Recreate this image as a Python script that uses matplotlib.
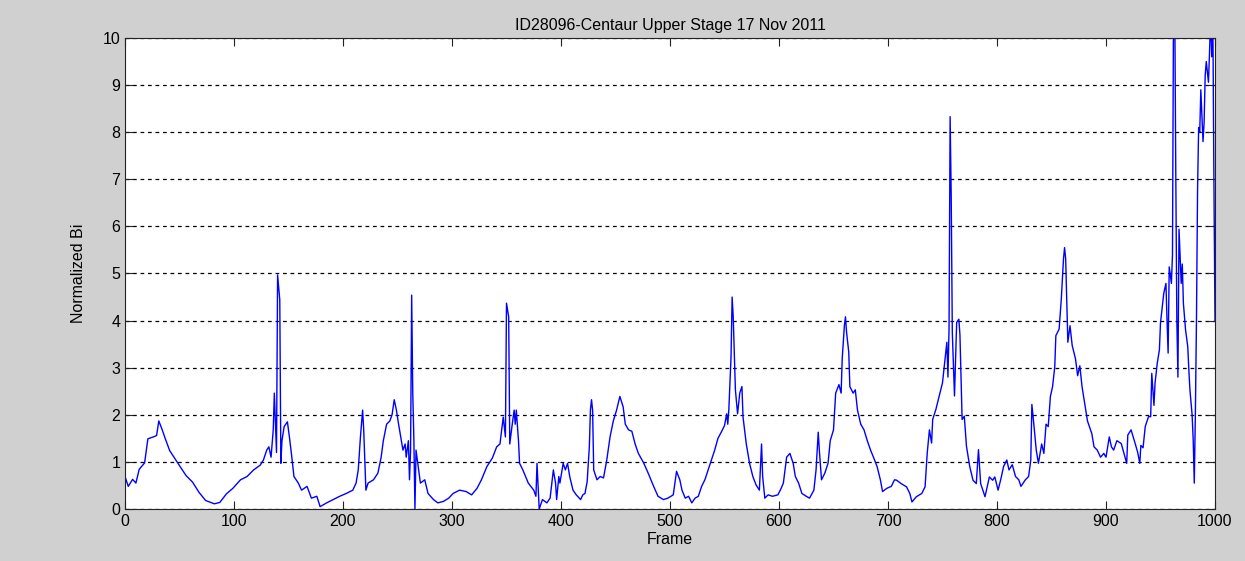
import matplotlib.pyplot as plt

plt.rcParams['font.family'] = ['Liberation Sans', 'DejaVu Sans']

# Frame numbers and normalized Bi values
frame = [0, 3, 7, 10, 13, 18, 21, 26, 29, 31, 34, 37, 41, 46, 50, 56, 62, 68, 74, 82, 87, 93, 99,
         106, 112, 118, 124, 127, 130, 132, 134, 136, 137, 139, 140, 142, 143, 144, 146, 149, 151,
         153, 155, 159, 162, 167, 171, 176, 179, 185, 191, 197, 200,
         203, 209, 212, 214, 216, 218, 219, 221, 223, 228, 232, 235, 237, 240, 243, 245, 247, 249,
         251, 254, 255, 257, 258, 260, 261, 262, 263, 264, 265, 266, 267, 269, 271, 275, 278, 283,
         287, 292, 297, 301,
         307, 313, 318, 323, 327, 332, 337, 341, 344, 346, 347, 349, 350, 352, 353, 355, 357, 358,
         359, 361, 362, 365, 370, 375, 377, 378, 380, 383, 387, 390, 393, 395, 396, 398, 399, 402,
         404, 406, 408, 411, 414, 418, 420, 422, 424, 426, 427, 428, 429, 430, 433, 436, 439, 442,
         445, 448, 451, 454, 457, 459, 462, 465, 468, 471, 476, 480, 485, 489, 494, 498, 503,
         506, 509, 511, 514, 517, 520, 523, 526, 529, 532, 535, 538, 541, 544, 547, 550, 552, 553,
         554, 556, 557, 558, 559, 560, 562, 564, 566, 567, 570, 573, 576, 579, 582, 584, 585, 587,
         590, 594, 599, 602,
         604, 607, 610, 613, 615, 618, 621, 625, 628, 632, 634, 636, 637, 639, 642, 645, 647, 650,
         652, 655, 657, 658, 660, 661, 662, 664, 665, 668, 670, 672, 675, 678, 681, 684, 687, 690,
         693, 695, 699, 703,
         706, 708, 712, 717, 720, 722, 726, 731, 734, 736, 738, 740, 741, 744, 747, 750, 752, 754,
         755, 756, 757, 758, 759, 761, 763, 765, 766, 768, 770, 772, 775, 778, 781, 783, 785, 787,
         789, 793, 796, 798, 801, 804,
         806, 809, 811, 814, 817, 820, 822, 826, 829, 831, 832, 834, 836, 838, 841, 843, 845, 847,
         849, 851, 853, 854, 857, 859, 861, 862, 863, 864, 865, 867, 869, 872, 874, 876, 878, 881,
         883, 887, 889, 892, 895, 898, 900, 903, 905, 907,
         910, 914, 917, 919, 920, 923, 926, 929, 931, 932, 934, 936, 939, 941, 942, 944, 945, 947,
         949, 950, 952, 953, 955, 956, 957, 958, 960, 961, 962, 963, 964, 965, 966, 967, 969, 970,
         971, 973, 975, 976, 977, 979, 980, 981, 982, 983, 984, 985, 986, 987, 988, 989, 990, 991,
         992, 994, 995, 996, 997, 998, 999, 1000]

bi = [0.69, 0.48, 0.63, 0.55, 0.84, 0.98, 1.49, 1.53, 1.56, 1.87, 1.69, 1.49, 1.24, 1.06, 0.92,
      0.71, 0.57, 0.35, 0.18, 0.11, 0.14, 0.32, 0.44,
      0.62, 0.69, 0.83, 0.93, 1.04, 1.25, 1.32, 1.10, 1.68, 2.46, 1.20, 4.97, 4.44, 0.97, 1.45,
      1.75, 1.85, 1.50, 1.11, 0.69, 0.55, 0.40, 0.48, 0.23, 0.27, 0.05, 0.13, 0.20, 0.27, 0.30,
      0.33, 0.40, 0.55, 0.83, 1.53, 2.10, 1.68, 0.40, 0.55, 0.62, 0.76, 1.10, 1.45, 1.80, 1.87,
      2.00, 2.32, 2.10, 1.80, 1.38, 1.25, 1.38, 1.10, 1.45, 0.62, 1.25, 4.54, 2.46, 1.50, 0.00,
      1.25, 0.90, 0.55, 0.62, 0.33, 0.20, 0.13, 0.16, 0.23, 0.33,
      0.40, 0.37, 0.30, 0.44, 0.62, 0.90, 1.08, 1.32, 1.38, 1.75, 1.95, 1.53, 4.37, 4.08, 1.38,
      1.75, 2.10, 1.80, 2.10, 1.45, 0.97, 0.83, 0.55, 0.40, 0.27, 0.97, 0.00, 0.20, 0.13, 0.23,
      0.83, 0.55, 0.20, 0.69, 0.55, 0.97,
      0.83, 0.97, 0.69, 0.40, 0.30, 0.20, 0.30, 0.33, 0.58, 1.32, 2.10, 2.32, 2.10, 0.83, 0.62,
      0.69, 0.66, 1.04, 1.53, 1.87, 2.10, 2.39, 2.17, 1.80, 1.68, 1.65, 1.38, 1.18, 0.97, 0.76,
      0.48, 0.27, 0.20, 0.23, 0.30,
      0.80, 0.62, 0.40, 0.23, 0.27, 0.13, 0.23, 0.27, 0.48, 0.62, 0.83, 1.04, 1.25, 1.50, 1.63,
      1.77, 2.02, 1.80, 2.12, 3.23, 4.50, 4.08, 3.30, 2.53, 2.02, 2.46, 2.60, 1.95, 1.38, 0.97,
      0.69, 0.51, 0.40, 1.38, 0.69, 0.23, 0.30, 0.27, 0.30, 0.44,
      0.55, 1.10, 1.18, 0.97, 0.69, 0.55, 0.33, 0.27, 0.23, 0.40, 0.83, 1.63, 1.25, 0.62, 0.76,
      0.97, 1.45, 1.68, 2.46, 2.64, 2.46, 3.19, 3.90, 4.08, 3.75, 3.33, 2.60, 2.46, 2.53, 2.10,
      1.80, 1.68, 1.45, 1.25, 1.08, 0.90, 0.62, 0.37, 0.44, 0.48,
      0.62, 0.61, 0.54, 0.47, 0.33, 0.15, 0.26, 0.33, 0.47, 1.19, 1.68, 1.40, 1.90, 2.12, 2.40,
      2.68, 3.10, 3.54, 2.80, 3.82, 8.33, 6.63, 3.75, 2.40, 3.96, 4.03, 3.70, 1.90, 1.97, 1.33,
      0.90, 0.61, 0.54, 1.26, 0.54, 0.40, 0.26, 0.68, 0.61, 0.68, 0.40, 0.68,
      0.90, 1.04, 0.83, 0.94, 0.69, 0.62, 0.48, 0.62, 0.69, 1.04, 2.22, 1.75, 1.25, 0.97, 1.38,
      1.18, 1.80, 1.75, 2.39, 2.60, 3.02, 3.68, 3.82, 4.46, 5.31, 5.55, 5.31, 4.40, 3.54, 3.89,
      3.47, 3.19, 2.83, 3.04, 2.60, 2.17, 1.87, 1.60, 1.32, 1.25, 1.10, 1.18, 1.10, 1.53, 1.32,
      1.25,
      1.45, 1.39, 1.14, 0.97, 1.57, 1.68, 1.45, 1.21, 0.97, 1.35, 1.30, 1.75, 1.96, 1.96, 2.88,
      2.20, 2.67, 3.09, 3.38, 3.95, 4.37, 4.58, 4.79, 4.00, 3.31, 5.14, 4.79, 5.40, 11.0, 11.0,
      7.20, 4.00, 2.80, 5.94, 4.79, 5.20, 4.37, 3.80, 3.45, 2.96, 2.53, 2.00, 1.47, 0.55, 2.03,
      4.00, 6.77, 8.10, 8.00, 8.90, 8.33, 7.80, 8.20, 9.20, 9.50, 9.06, 9.70, 10.5, 9.60, 10.5,
      7.00, 4.00]

fig = plt.figure(figsize=(12.45, 5.61), dpi=100, facecolor='#d0d0d0')
ax = fig.add_axes([0.1004, 0.0927, 0.8755, 0.8396])
ax.set_facecolor('white')

ax.plot(frame, bi, color='#0000ff', linewidth=1.0)

ax.set_xlim(0, 1000)
ax.set_ylim(0, 10)
ax.set_xticks(range(0, 1001, 100))
ax.set_yticks(range(0, 11))
ax.yaxis.grid(True, color='black', linestyle=(0, (3, 3)), linewidth=0.9)
ax.tick_params(direction='in', top=True, right=True, length=6, labelsize=11.5, color='#222222')
for s in ax.spines.values():
    s.set_color('#222222')

ax.set_title('ID28096-Centaur Upper Stage 17 Nov 2011', fontsize=11.5, pad=6)
ax.set_xlabel('Frame', fontsize=11.5, labelpad=2)
ax.set_ylabel('Normalized Bi', fontsize=11.5, labelpad=12)

fig.savefig('out.png', dpi=100, facecolor=fig.get_facecolor())
